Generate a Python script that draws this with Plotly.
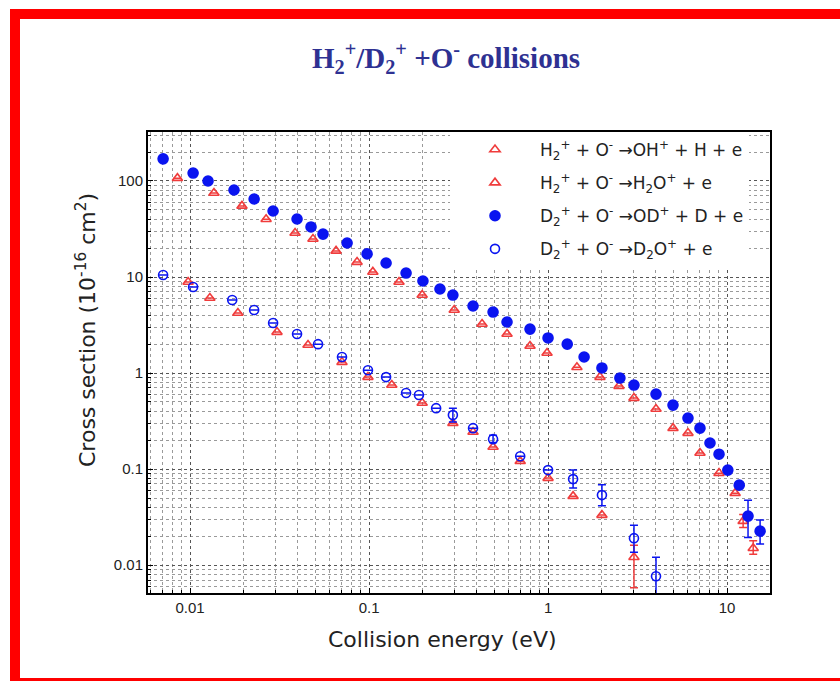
import plotly.graph_objects as go

# ---------------- data ----------------
energy_oh = [0.0085, 0.0136, 0.0195, 0.0266, 0.0386, 0.0486, 0.0654, 0.0857, 0.105, 0.147,
             0.198, 0.299, 0.428, 0.59, 0.793, 0.987, 1.45, 1.95, 2.49, 3.02,
             4.01, 4.99, 6.05, 7.06, 9.02, 11.1, 12.3, 14.0]
sigma_oh = [107, 75, 55, 40, 28.7, 24.9, 18.7, 14.3, 11.3, 8.87,
            6.49, 4.53, 3.24, 2.55, 1.91, 1.62, 1.15, 0.908, 0.732, 0.549,
            0.422, 0.267, 0.237, 0.147, 0.0908, 0.0562, 0.0287, 0.015]
err_oh_plus = [0] * 26 + [0.005, 0.003]
err_oh_minus = [0] * 26 + [0.004, 0.002]

energy_h2o = [0.00975, 0.0129, 0.0185, 0.0306, 0.0456, 0.0706, 0.0986, 0.134, 0.198,
              0.294, 0.381, 0.493, 0.699, 1.0, 1.38, 2.0, 3.02]
sigma_h2o = [8.87, 6.04, 4.22, 2.67, 1.96, 1.30, 0.908, 0.750, 0.487,
             0.301, 0.243, 0.170, 0.121, 0.0806, 0.0523, 0.0332, 0.0121]
err_h2o_plus = [0] * 16 + [0.004]
err_h2o_minus = [0] * 16 + [0.0063]

energy_od = [0.00707, 0.0104, 0.0126, 0.0176, 0.0228, 0.0291, 0.0396, 0.0474, 0.0553, 0.0754,
             0.0975, 0.1245, 0.161, 0.200, 0.249, 0.294, 0.381, 0.493, 0.590, 0.793,
             1.0, 1.28, 1.59, 2.0, 2.52, 3.02, 4.01, 4.99, 6.05, 7.06,
             8.03, 9.02, 10.1, 11.7, 13.1, 15.3]
sigma_od = [170, 121, 100, 80.6, 64.9, 48.7, 40.2, 33.2, 28.0, 22.6,
            17.4, 14.0, 11.0, 9.09, 7.50, 6.49, 4.99, 4.32, 3.40, 2.87,
            2.32, 2.0, 1.47, 1.13, 0.887, 0.750, 0.604, 0.464, 0.340, 0.267,
            0.187, 0.143, 0.0977, 0.0681, 0.0324, 0.0226]
err_od_plus = [0] * 34 + [0.015, 0.007]
err_od_minus = [0] * 34 + [0.013, 0.006]

energy_d2o = [0.00707, 0.0104, 0.0172, 0.0228, 0.0291, 0.0396, 0.0519, 0.0706, 0.0986, 0.1245,
              0.161, 0.190, 0.237, 0.294, 0.381, 0.493, 0.699, 1.0, 1.38, 2.0,
              3.02, 4.01]
sigma_d2o = [10.5, 7.87, 5.76, 4.53, 3.32, 2.55, 2.0, 1.47, 1.07, 0.908,
             0.619, 0.590, 0.431, 0.365, 0.267, 0.205, 0.136, 0.0977, 0.0787, 0.0536,
             0.0191, 0.00767]
err_d2o_plus = [0] * 13 + [0.066, 0, 0.02, 0, 0, 0.019, 0.015, 0.007, 0.0044]
err_d2o_minus = [0] * 13 + [0.055, 0, 0.016, 0, 0, 0.015, 0.012, 0.0055, 0.0070]

x_ticks = [0.01, 0.1, 1, 10]
x_tick_text = ["0.01", "0.1", "1", "10"]
y_ticks = [0.01, 0.1, 1, 10, 100]
y_tick_text = ["0.01", "0.1", "1", "10", "100"]

names = [
    "H<sub>2</sub><sup>+</sup> + O<sup>-</sup> →OH<sup>+</sup> + H + e",
    "H<sub>2</sub><sup>+</sup> + O<sup>-</sup> →H<sub>2</sub>O<sup>+</sup> + e",
    "D<sub>2</sub><sup>+</sup> + O<sup>-</sup> →OD<sup>+</sup> + D + e",
    "D<sub>2</sub><sup>+</sup> + O<sup>-</sup> →D<sub>2</sub>O<sup>+</sup> + e",
]

# ---------------- styles ----------------
RED = "#f03c3c"
BLUE = "#0a14f0"
FONT = "DejaVu Sans, Arial, sans-serif"
TICKFONT = "Liberation Sans, Arial, sans-serif"

W, H = 840, 681
L, R, T, B = 148, 770, 132, 593


def px_x(p):
    return (p - L) / (R - L)


def px_y(p):
    return (B - p) / (B - T)


fig = go.Figure()


def add(x, y, ep, em, name, symbol, color, size, group):
    fig.add_trace(go.Scatter(
        x=x, y=y, mode="markers", name=name, legendgroup=group,
        marker=dict(symbol=symbol, size=size, color=color,
                    line=dict(color=color, width=1.6)),
        error_y=dict(type="data", symmetric=False, array=ep, arrayminus=em,
                     color=color, thickness=1.5, width=4),
    ))


add(energy_oh, sigma_oh, err_oh_plus, err_oh_minus, names[0], "triangle-up-open", RED, 9, "a")
add(energy_h2o, sigma_h2o, err_h2o_plus, err_h2o_minus, names[1], "triangle-up-open", RED, 9, "b")
add(energy_od, sigma_od, err_od_plus, err_od_minus, names[2], "circle", BLUE, 10, "c")
add(energy_d2o, sigma_d2o, err_d2o_plus, err_d2o_minus, names[3], "circle-open", BLUE, 9, "d")

minor_x = [m * 10 ** e for e in range(-3, 2) for m in range(2, 10)]
minor_y = [m * 10 ** e for e in range(-3, 3) for m in range(2, 10)]

axis_common = dict(
    type="log", showline=True, linecolor="black", linewidth=2, mirror=True,
    ticks="inside", ticklen=5, tickcolor="black", tickwidth=1,
    showgrid=True, gridcolor="#555555", griddash="dot", gridwidth=1,
    tickfont=dict(family=TICKFONT, size=15, color="#222222"),
    zeroline=False,
)

fig.update_xaxes(
    **axis_common,
    range=[-2.235, 1.24],
    tickvals=x_ticks, ticktext=x_tick_text,
    minor=dict(tickvals=minor_x, showgrid=True, gridcolor="#9a9a9a", griddash="dot",
               ticks="inside", ticklen=3, tickcolor="black"),
)
fig.update_yaxes(
    **axis_common,
    range=[-2.29, 2.51],
    tickvals=y_ticks, ticktext=y_tick_text,
    minor=dict(tickvals=minor_y, showgrid=True, gridcolor="#9a9a9a", griddash="dot",
               ticks="inside", ticklen=3, tickcolor="black"),
)

shapes = [
    # red frame around the picture
    dict(type="rect", xref="paper", yref="paper", x0=px_x(10), x1=px_x(20),
         y0=px_y(681), y1=px_y(9), fillcolor="#ff0000", line=dict(width=0), layer="above"),
    dict(type="rect", xref="paper", yref="paper", x0=px_x(10), x1=px_x(840),
         y0=px_y(19), y1=px_y(9), fillcolor="#ff0000", line=dict(width=0), layer="above"),
    dict(type="rect", xref="paper", yref="paper", x0=px_x(10), x1=px_x(840),
         y0=px_y(681), y1=px_y(678), fillcolor="#ff0000", line=dict(width=0), layer="above"),
]

annotations = [
    dict(text="Cross section (10<sup>-16</sup> cm<sup>2</sup>)", textangle=-90,
         xref="paper", yref="paper", x=px_x(86), y=px_y(330),
         xanchor="center", yanchor="middle", showarrow=False,
         font=dict(family=FONT, size=22, color="#222222")),
    dict(text="Collision energy (eV)",
         xref="paper", yref="paper", x=px_x(442), y=px_y(639),
         xanchor="center", yanchor="middle", showarrow=False,
         font=dict(family=FONT, size=22, color="#222222")),
]

fig.update_layout(
    width=W, height=H,
    margin=dict(l=L, r=W - R, t=T, b=H - B),
    paper_bgcolor="white", plot_bgcolor="white",
    title=dict(
        text="<b>H<sub>2</sub><sup>+</sup>/D<sub>2</sub><sup>+</sup> +O<sup>-</sup> collisions</b>",
        font=dict(family="Liberation Serif, Times New Roman, serif", size=29, color="#2e3192"),
        x=446 / W, xanchor="center", xref="container",
        y=1 - 58 / H, yanchor="middle", yref="container",
    ),
    legend=dict(
        x=px_x(450), y=px_y(132), xanchor="left", yanchor="top",
        bgcolor="white", borderwidth=0,
        font=dict(family=FONT, size=17, color="#222222"),
        itemwidth=80, tracegroupgap=8, traceorder="grouped",
    ),
    shapes=shapes,
    annotations=annotations,
    showlegend=True,
)

fig.write_html("out.html")
